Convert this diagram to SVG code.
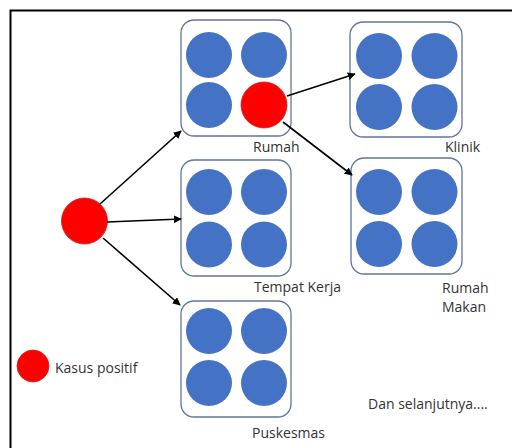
<svg xmlns="http://www.w3.org/2000/svg" width="512" height="448" viewBox="0 0 512 448">
<defs>
<style>
.box{fill:#fff;stroke:#62769a;stroke-width:1.3}
.b{fill:#4472C4}
.r{fill:#FF0000;stroke:#d02020;stroke-width:0.8}
.lbl{font-family:"Open Sans","Liberation Sans",sans-serif;font-size:14px;fill:#333}
.conn line{stroke:#000;stroke-width:1.6;marker-end:url(#ah)}
</style>
<marker id="ah" viewBox="0 0 10 10" refX="9" refY="5" markerWidth="5" markerHeight="5" orient="auto" markerUnits="strokeWidth">
<path d="M0,0 L10,5 L0,10 z" fill="#000"/>
</marker>
</defs>
<rect x="0" y="0" width="512" height="448" fill="#fff"/>
<path d="M10.5,448 V10.5 H512" fill="none" stroke="#000" stroke-width="2"/>

<g id="rumah">
<rect class="box" x="181" y="20" width="110" height="116" rx="13"/>
<circle class="b" cx="209" cy="55" r="23"/>
<circle class="b" cx="264" cy="55" r="23"/>
<circle class="b" cx="209" cy="105" r="23"/>
<circle class="r" cx="264" cy="105" r="23"/>
<text class="lbl" x="253" y="152">Rumah</text>
</g>

<g id="klinik">
<rect class="box" x="350" y="22" width="112" height="115" rx="13"/>
<circle class="b" cx="379" cy="56" r="23"/>
<circle class="b" cx="434.5" cy="56" r="23"/>
<circle class="b" cx="379" cy="107" r="23"/>
<circle class="b" cx="434.5" cy="107" r="23"/>
<text class="lbl" x="445" y="152">Klinik</text>
</g>

<g id="tempat-kerja">
<rect class="box" x="181" y="160" width="110" height="116" rx="13"/>
<circle class="b" cx="209" cy="192" r="23"/>
<circle class="b" cx="264" cy="192" r="23"/>
<circle class="b" cx="209" cy="244.5" r="23"/>
<circle class="b" cx="264" cy="244.5" r="23"/>
<text class="lbl" x="254" y="292">Tempat Kerja</text>
</g>

<g id="rumah-makan">
<rect class="box" x="351" y="158" width="111" height="116" rx="13"/>
<circle class="b" cx="379" cy="192" r="23"/>
<circle class="b" cx="434.5" cy="192" r="23"/>
<circle class="b" cx="379" cy="244" r="23"/>
<circle class="b" cx="434.5" cy="244" r="23"/>
<text class="lbl" x="442" y="293">Rumah</text>
<text class="lbl" x="442" y="312">Makan</text>
</g>

<g id="puskesmas">
<rect class="box" x="181" y="301" width="110" height="116" rx="13"/>
<circle class="b" cx="209" cy="331" r="23"/>
<circle class="b" cx="264" cy="331" r="23"/>
<circle class="b" cx="209" cy="383" r="23"/>
<circle class="b" cx="264" cy="383" r="23"/>
<text class="lbl" x="252" y="438">Puskesmas</text>
</g>

<g id="kasus-awal">
<circle class="r" cx="84.5" cy="221" r="23"/>
</g>

<g id="legend">
<circle class="r" cx="33" cy="366" r="16"/>
<text class="lbl" x="55" y="373">Kasus positif</text>
</g>

<g id="note">
<text class="lbl" x="368" y="409">Dan selanjutnya....</text>
</g>

<g class="conn" id="connectors">
<line x1="100" y1="204" x2="181" y2="131"/>
<line x1="107" y1="222" x2="181" y2="219"/>
<line x1="103" y1="238" x2="180" y2="305"/>
<line x1="287" y1="96" x2="355" y2="74"/>
<line x1="283" y1="122" x2="352" y2="175"/>
</g>
</svg>
